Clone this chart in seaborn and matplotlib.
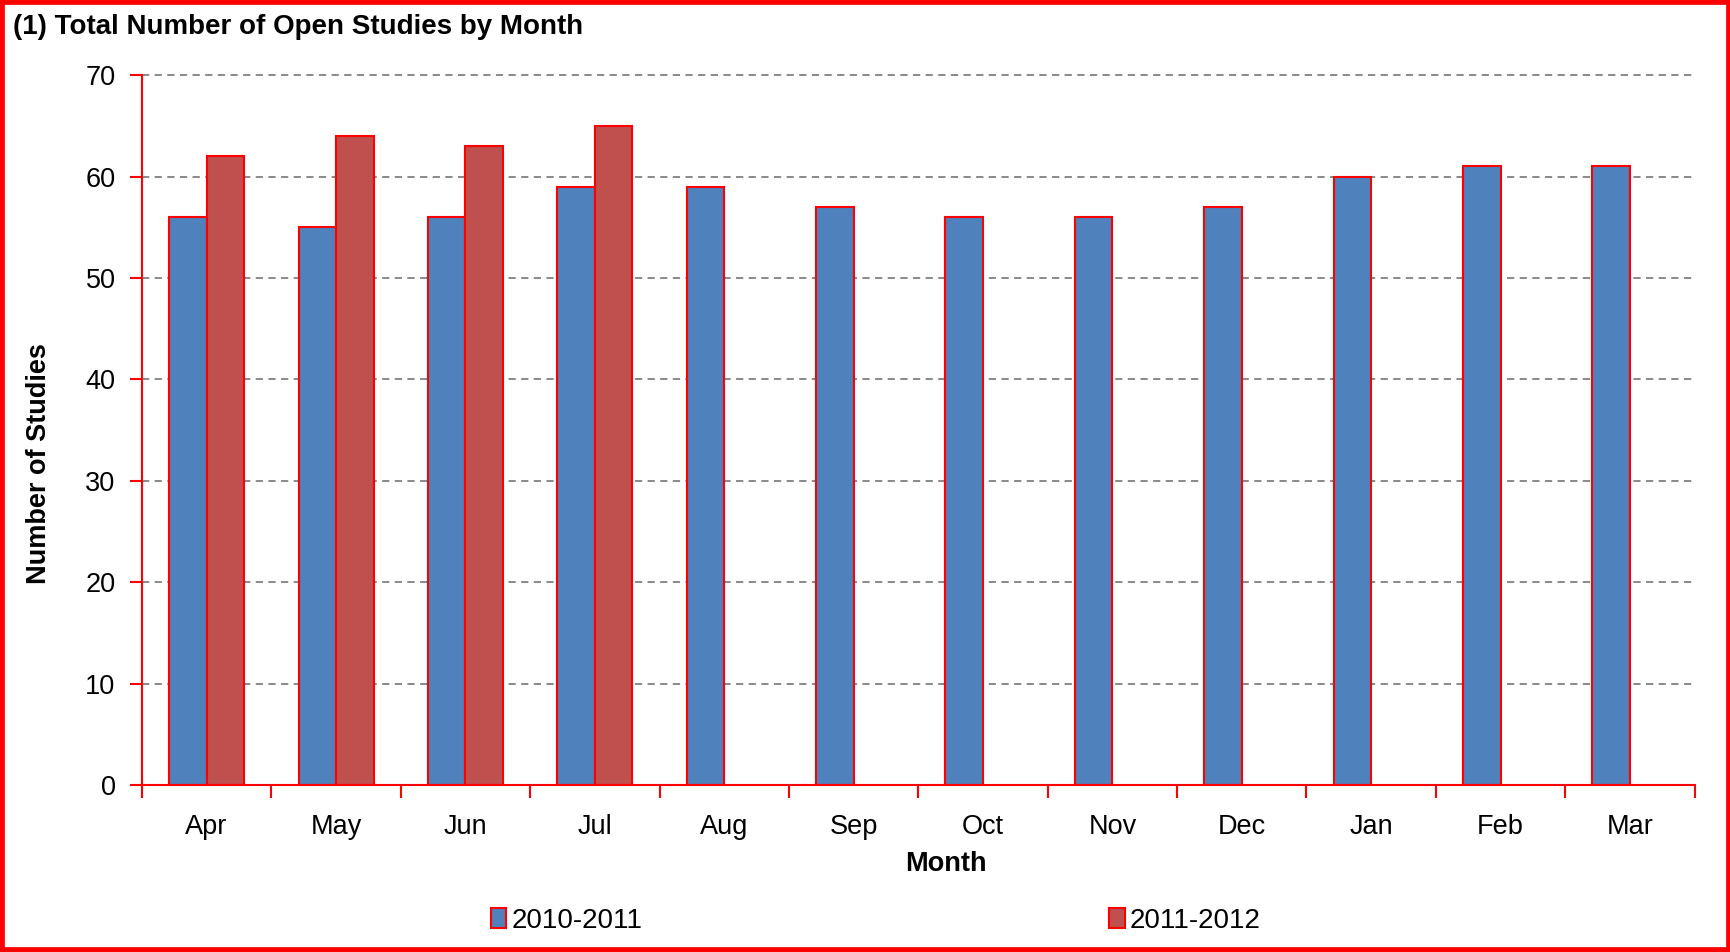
import numpy as np
import pandas as pd
import seaborn as sns
import matplotlib.pyplot as plt
from matplotlib.patches import Rectangle

# ----- Chart data ----- #
months = ['Apr', 'May', 'Jun', 'Jul', 'Aug', 'Sep', 'Oct', 'Nov', 'Dec', 'Jan', 'Feb', 'Mar']
seasons = ['2010-2011', '2011-2012']
studies_2010_2011 = [56, 55, 56, 59, 59, 57, 56, 56, 57, 60, 61, 61]
studies_2011_2012 = [62, 64, 63, 65]
bar_colors = ['#4F81BD', '#C0504D']


def build_frame():
    # ----- long format table for seaborn ----- #
    rows = []
    for month, value in zip(months, studies_2010_2011):
        rows.append({'Month': month, 'Studies': value, 'Season': seasons[0]})
    for month, value in zip(months, studies_2011_2012):
        rows.append({'Month': month, 'Studies': value, 'Season': seasons[1]})
    return pd.DataFrame(rows)


def main():
    df = build_frame()

    sns.set_style('white')
    plt.rcParams['font.family'] = ['Liberation Sans', 'DejaVu Sans']
    plt.rcParams['text.color'] = 'black'
    plt.rcParams['axes.labelcolor'] = 'black'

    fig = plt.figure(figsize=(17.31, 9.52), dpi=100)
    ax = fig.add_axes([0.082, 0.1754, 0.897, 0.7456])

    sns.barplot(data=df, x='Month', y='Studies', hue='Season', order=months,
                hue_order=seasons, palette=bar_colors, saturation=1, width=0.58,
                edgecolor='red', linewidth=1.5, errorbar=None, ax=ax, zorder=3)

    # ----- axes styling ----- #
    ax.set_xlim(-0.5, len(months) - 0.5)
    ax.set_ylim(0, 70)
    ax.set_yticks(range(0, 71, 10))
    ax.yaxis.grid(True, color='#808080', linestyle=(0, (4, 3)), linewidth=1.3, zorder=0)
    ax.xaxis.grid(False)
    for line in ax.get_ygridlines():
        line.set_clip_on(False)
    for side in ['top', 'right']:
        ax.spines[side].set_visible(False)
    for side in ['left', 'bottom']:
        ax.spines[side].set_color('red')
        ax.spines[side].set_linewidth(1.5)
        ax.spines[side].set_zorder(4)

    ax.tick_params(axis='y', which='major', direction='out', length=9, width=1.5,
                   color='red', labelcolor='black', labelsize=19.5, pad=10, left=True)
    ax.set_xticks(range(len(months)))
    ax.set_xticklabels(months)
    ax.set_xticks(np.arange(-0.5, len(months)), minor=True)
    ax.tick_params(axis='x', which='major', length=0, labelsize=19.5,
                   labelcolor='black', pad=21)
    ax.tick_params(axis='x', which='minor', direction='out', length=9, width=1.5,
                   color='red', bottom=True)

    ax.set_xlabel('Month', fontsize=19.5, fontweight='bold')
    ax.set_ylabel('Number of Studies', fontsize=19.5, fontweight='bold')
    ax.xaxis.set_label_coords(0.518, -0.093)
    ax.yaxis.set_label_coords(-0.058, 0.453)

    # ----- legend at the bottom ----- #
    handles, labels = ax.get_legend_handles_labels()
    ax.legend_.remove()
    leg = fig.legend(handles, labels, loc='center', bbox_to_anchor=(0.506, 0.033),
                     ncol=2, frameon=False, fontsize=20, handlelength=0.55,
                     handleheight=0.75, handletextpad=0.2, columnspacing=16.8)
    for patch in leg.get_patches():
        patch.set_edgecolor('red')
        patch.set_linewidth(1.5)

    # ----- title and outer frame ----- #
    fig.text(0.0075, 0.972, '(1) Total Number of Open Studies by Month',
             fontsize=20, fontweight='bold', ha='left', va='center')
    fig.patches.append(Rectangle((0, 0), 1, 1, transform=fig.transFigure,
                                 fill=False, edgecolor='red', linewidth=7))

    fig.savefig('out.png', dpi=100)


if __name__ == '__main__':
    main()
